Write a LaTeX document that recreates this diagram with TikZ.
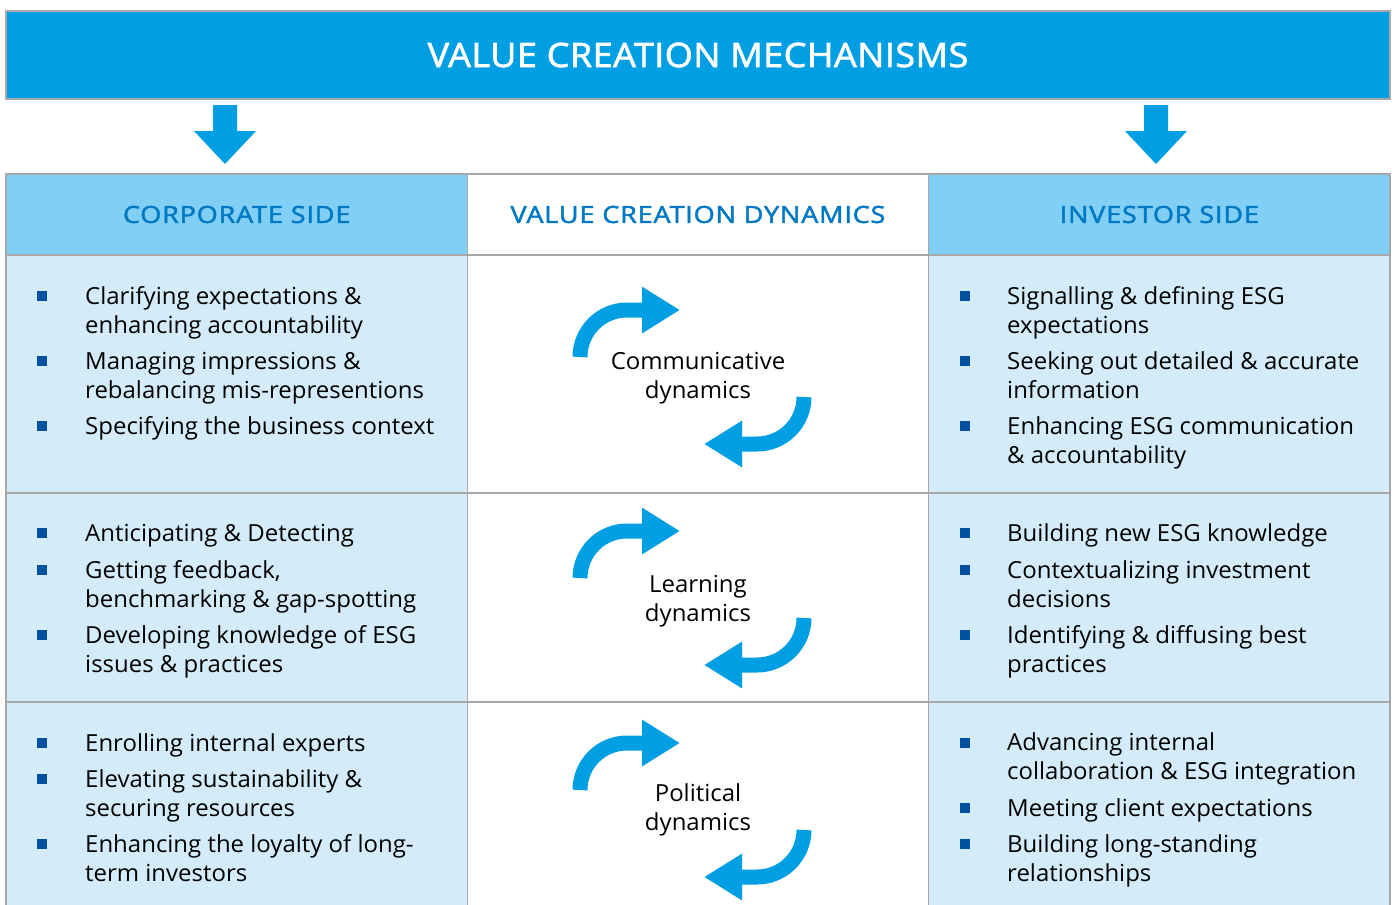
\documentclass[tikz,border=0pt]{standalone}
\usepackage{fontspec}
\setmainfont{Open Sans}[FakeStretch=1.02]
\newfontfamily\titlefont[FakeBold=2, FakeStretch=1.07, LetterSpace=1.5]{Open Sans}
\newfontfamily\headfont[FakeBold=2, FakeStretch=1.15, LetterSpace=3.5]{Open Sans}
\usetikzlibrary{positioning,arrows.meta}

\definecolor{titleblue}{HTML}{009FE3}
\definecolor{headblue}{HTML}{82CFF5}
\definecolor{cellblue}{HTML}{D4ECFA}
\definecolor{textblue}{HTML}{0079C4}
\definecolor{sqblue}{HTML}{0052A0}
\definecolor{gridgray}{HTML}{A8A8A8}

\tikzset{
  cell/.style={rectangle, draw=gridgray, line width=1.5pt, inner sep=0pt, outer sep=0pt, minimum width=461.33pt},
  titlebar/.style={cell, fill=titleblue, minimum width=1384pt, minimum height=88pt, text=white, font=\titlefont\fontsize{33.6}{40}\selectfont},
  sidehead/.style={cell, fill=headblue, minimum height=81pt, text=textblue, font=\headfont\fontsize{23.5}{30}\selectfont},
  midhead/.style={sidehead, fill=white},
  sidecell/.style={cell, fill=cellblue},
  midcell/.style={cell, fill=white},
  item/.style={anchor=base west, align=left, inner sep=0pt, font=\fontsize{23.5}{29}\selectfont},
  sq/.style={rectangle, fill=sqblue, minimum size=9.5pt, inner sep=0pt},
  dynlabel/.style={anchor=base, align=center, inner sep=0pt, font=\fontsize{23.5}{29}\selectfont},
  bandarrow/.style={draw=titleblue, line width=15pt, -{Triangle[length=38pt,width=44pt]}},
  downarrow/.pic={
    \fill[titleblue] (-12,0) -- (12,0) -- (12,26) -- (31,26) -- (0,59) -- (-31,26) -- (-12,26) -- cycle;
  },
  swirl/.pic={
    \draw[bandarrow] (-112,-20) .. controls (-112,-46) and (-91,-67) .. (-65,-67) -- (-12,-67);
    \draw[bandarrow] (112,20) .. controls (112,46) and (91,67) .. (65,67) -- (12,67);
  }
}

\begin{document}
\begin{tikzpicture}[x=1pt, y=-1pt]
    \useasboundingbox (0,0) rectangle (1395,905);

    % title and arrows down to the two sides
    \node (title) [titlebar] at (698,55) {VALUE CREATION MECHANISMS};
    \pic at (225,105) {downarrow};
    \pic at (1156,105) {downarrow};

    % header row
    \node (corp) [sidehead] at (236.67,214.5) {CORPORATE SIDE};
    \node (dyn) [midhead, right=0pt of corp] {VALUE CREATION DYNAMICS};
    \node (inv) [sidehead, right=0pt of dyn] {INVESTOR SIDE};

    % body rows
    \node (c1) [sidecell, minimum height=238pt, below=0pt of corp] {};
    \node (d1) [midcell, minimum height=238pt, below=0pt of dyn] {};
    \node (i1) [sidecell, minimum height=238pt, below=0pt of inv] {};
    \node (c2) [sidecell, minimum height=209pt, below=0pt of c1] {};
    \node (d2) [midcell, minimum height=209pt, below=0pt of d1] {};
    \node (i2) [sidecell, minimum height=209pt, below=0pt of i1] {};
    \node (c3) [sidecell, minimum height=212pt, below=0pt of c2] {};
    \node (d3) [midcell, minimum height=212pt, below=0pt of d2] {};
    \node (i3) [sidecell, minimum height=212pt, below=0pt of i2] {};

    % corporate side (items sit on the baseline of their last line)
    \node [sq] at (42,296) {};
    \node (c1a) [item] at (85,333) {Clarifying expectations \&\\enhancing accountability};
    \node [sq] at (42,361) {};
    \node (c1b) [item] at (85,398) {Managing impressions \&\\rebalancing mis-representions};
    \node [sq] at (42,426) {};
    \node (c1c) [item] at (85,434) {Specifying the business context};

    \node [sq] at (42,533) {};
    \node (c2a) [item] at (85,541) {Anticipating \& Detecting};
    \node [sq] at (42,570) {};
    \node (c2b) [item] at (85,607) {Getting feedback,\\benchmarking \& gap-spotting};
    \node [sq] at (42,635) {};
    \node (c2c) [item] at (85,672) {Developing knowledge of ESG\\issues \& practices};

    \node [sq] at (42,743) {};
    \node (c3a) [item] at (85,751) {Enrolling internal experts};
    \node [sq] at (42,779) {};
    \node (c3b) [item] at (85,816) {Elevating sustainability \&\\securing resources};
    \node [sq] at (42,844) {};
    \node (c3c) [item] at (85,881) {Enhancing the loyalty of long-\\term investors};

    % dynamics
    \pic at (692,377) {swirl};
    \node (comm) [dynlabel] at (698,398) {Communicative\\dynamics};
    \pic at (692,598) {swirl};
    \node (learn) [dynlabel] at (698,621) {Learning\\dynamics};
    \pic at (692,810) {swirl};
    \node (polit) [dynlabel] at (698,830) {Political\\dynamics};

    % investor side
    \node [sq] at (965,296) {};
    \node (i1a) [item] at (1007,333) {Signalling \& defining ESG\\expectations};
    \node [sq] at (965,361) {};
    \node (i1b) [item] at (1007,398) {Seeking out detailed \& accurate\\information};
    \node [sq] at (965,426) {};
    \node (i1c) [item] at (1007,463) {Enhancing ESG communication\\\& accountability};

    \node [sq] at (965,533) {};
    \node (i2a) [item] at (1007,541) {Building new ESG knowledge};
    \node [sq] at (965,570) {};
    \node (i2b) [item] at (1007,607) {Contextualizing investment\\decisions};
    \node [sq] at (965,635) {};
    \node (i2c) [item] at (1007,672) {Identifying \& diffusing best\\practices};

    \node [sq] at (965,743) {};
    \node (i3a) [item] at (1007,779) {Advancing internal\\collaboration \& ESG integration};
    \node [sq] at (965,808) {};
    \node (i3b) [item] at (1007,816) {Meeting client expectations};
    \node [sq] at (965,844) {};
    \node (i3c) [item] at (1007,881) {Building long-standing\\relationships};
\end{tikzpicture}
\end{document}
